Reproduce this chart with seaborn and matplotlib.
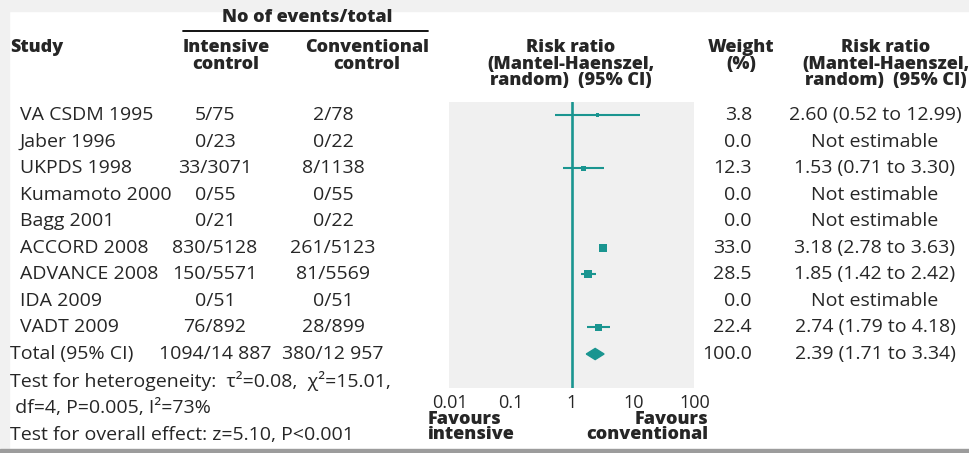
import numpy as np
import pandas as pd
import matplotlib
matplotlib.use("Agg")
import matplotlib.pyplot as plt
import matplotlib.ticker as mticker
from matplotlib.patches import Polygon, Rectangle
from matplotlib.lines import Line2D
from matplotlib.transforms import blended_transform_factory
import seaborn as sns

# data
studies = ["VA CSDM 1995", "Jaber 1996", "UKPDS 1998", "Kumamoto 2000", "Bagg 2001",
           "ACCORD 2008", "ADVANCE 2008", "IDA 2009", "VADT 2009"]
intensive = ["5/75", "0/23", "33/3071", "0/55", "0/21", "830/5128", "150/5571", "0/51", "76/892"]
conventional = ["2/78", "0/22", "8/1138", "0/55", "0/22", "261/5123", "81/5569", "0/51", "28/899"]
weights = [3.8, 0.0, 12.3, 0.0, 0.0, 33.0, 28.5, 0.0, 22.4]
rr = [2.60, np.nan, 1.53, np.nan, np.nan, 3.18, 1.85, np.nan, 2.74]
rr_lo = [0.52, np.nan, 0.71, np.nan, np.nan, 2.78, 1.42, np.nan, 1.79]
rr_hi = [12.99, np.nan, 3.30, np.nan, np.nan, 3.63, 2.42, np.nan, 4.18]

total_label = "Total (95% CI)"
total_intensive = "1094/14 887"
total_conventional = "380/12 957"
total_weight = 100.0
total_rr, total_lo, total_hi = 2.39, 1.71, 3.34

xtick_vals = [0.01, 0.1, 1, 10, 100]
xtick_labels = ["0.01", "0.1", "1", "10", "100"]

footnotes = ["Test for heterogeneity:  \u03c4\u00b2=0.08,  \u03c7\u00b2=15.01,",
             " df=4, P=0.005, I\u00b2=73%",
             "Test for overall effect: z=5.10, P<0.001"]

teal = "#1a9590"

sns.set_style("white")
plt.rcParams['font.family'] = ['Open Sans', 'DejaVu Sans']

W, H = 970, 453
fig = plt.figure(figsize=(9.7, 4.53), dpi=100)


def fx(x):
    return x / W


def fy(y):
    return 1 - y / H


# frame shading like the screenshot
fig.add_artist(Rectangle((0, fy(11)), 1, 11 / H, transform=fig.transFigure, color="#f1f1f1", zorder=-5))
fig.add_artist(Rectangle((0, 0), fx(9), 1, transform=fig.transFigure, color="#f1f1f1", zorder=-5))
fig.add_artist(Rectangle((0, 0), 1, 4 / H, transform=fig.transFigure, color="#9c9c9c", zorder=-5))

ax = fig.add_axes([fx(449.5), fy(388), (694.5 - 449.5) / W, (388 - 102) / H])
ax.set_facecolor("#f0f0f0")

df = pd.DataFrame({"row": np.arange(len(studies)), "rr": rr, "lo": rr_lo, "hi": rr_hi, "weight": weights})
est = df.dropna()

ax.hlines(est["row"], est["lo"], est["hi"], color=teal, lw=1.5, zorder=3)
sns.scatterplot(data=est, x="rr", y="row", size="weight", sizes=(5, 36), size_norm=(3.8, 33),
                marker="s", color=teal, linewidth=0, legend=False, ax=ax, zorder=4)

trow = len(studies)
ax.add_patch(Polygon([(total_lo, trow), (total_rr, trow - 0.21), (total_hi, trow), (total_rr, trow + 0.21)],
                     closed=True, color=teal, zorder=4))
ax.axvline(1, color=teal, lw=1.9, zorder=5)

ax.set_xscale("log")
ax.set_xlim(0.01, 100)
ax.set_ylim(10.28, -0.49)
ax.set_xticks(xtick_vals)
ax.set_xticklabels(xtick_labels)
ax.xaxis.set_minor_locator(mticker.NullLocator())
ax.set_yticks([])
ax.set_xlabel("")
ax.set_ylabel("")
ax.tick_params(axis="x", direction="in", length=4, width=1.5, color="white", pad=4, labelsize=13)
for s in ax.spines.values():
    s.set_visible(False)

# table text
tr = blended_transform_factory(fig.transFigure, ax.transData)
fs = 14
for i in range(len(studies)):
    ax.text(fx(20), i, studies[i], transform=tr, ha="left", va="center", fontsize=fs, clip_on=False)
    ax.text(fx(215), i, intensive[i], transform=tr, ha="center", va="center", fontsize=fs, clip_on=False)
    ax.text(fx(333), i, conventional[i], transform=tr, ha="center", va="center", fontsize=fs, clip_on=False)
    ax.text(fx(752), i, f"{weights[i]:.1f}", transform=tr, ha="right", va="center", fontsize=fs, clip_on=False)
    if np.isnan(rr[i]):
        lab = "Not estimable"
    else:
        lab = f"{rr[i]:.2f} ({rr_lo[i]:.2f} to {rr_hi[i]:.2f})"
    ax.text(fx(875), i, lab, transform=tr, ha="center", va="center", fontsize=fs, clip_on=False)

ax.text(fx(10), trow, total_label, transform=tr, ha="left", va="center", fontsize=fs, clip_on=False)
ax.text(fx(215), trow, total_intensive, transform=tr, ha="center", va="center", fontsize=fs, clip_on=False)
ax.text(fx(333), trow, total_conventional, transform=tr, ha="center", va="center", fontsize=fs, clip_on=False)
ax.text(fx(752), trow, f"{total_weight:.1f}", transform=tr, ha="right", va="center", fontsize=fs, clip_on=False)
ax.text(fx(875), trow, f"{total_rr:.2f} ({total_lo:.2f} to {total_hi:.2f})", transform=tr,
        ha="center", va="center", fontsize=fs, clip_on=False)

for k, note in enumerate(footnotes):
    fig.text(fx(10), fy(381 + 27 * k), note, ha="left", va="center", fontsize=fs)

# headers
hb = dict(fontsize=13, fontweight="heavy", va="center")
fig.text(fx(307), fy(18), "No of events/total", ha="center", **hb)
fig.add_artist(Line2D([fx(183), fx(428)], [fy(31), fy(31)], color="black", lw=1.3))
fig.text(fx(10), fy(48), "Study", ha="left", **hb)
for x, lines in [(226, ["Intensive", "control"]), (367, ["Conventional", "control"]),
                 (571, ["Risk ratio", "(Mantel-Haenszel,", "random)  (95% CI)"]),
                 (741, ["Weight", "(%)"]),
                 (886, ["Risk ratio", "(Mantel-Haenszel,", "random)  (95% CI)"])]:
    for j, t in enumerate(lines):
        fig.text(fx(x), fy(48 + 16.5 * j), t, ha="center", **hb)

fig.text(fx(428), fy(427), "Favours\nintensive", ha="left", linespacing=0.78, **hb)
fig.text(fx(708), fy(427), "Favours\nconventional", ha="right", linespacing=0.78, **hb)

fig.savefig("out.png", dpi=100)
